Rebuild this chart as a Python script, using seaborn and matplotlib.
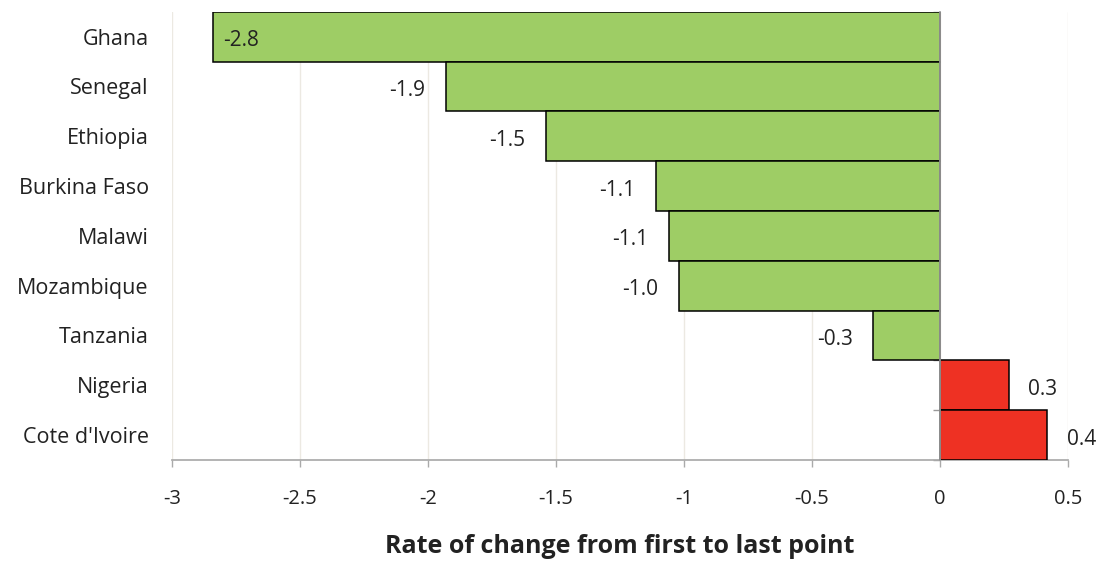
import matplotlib
matplotlib.use("Agg")
import matplotlib.pyplot as plt
import seaborn as sns
import pandas as pd

countries = ["Ghana", "Senegal", "Ethiopia", "Burkina Faso", "Malawi",
             "Mozambique", "Tanzania", "Nigeria", "Cote d'Ivoire"]
rates = [-2.84, -1.93, -1.54, -1.11, -1.06, -1.02, -0.26, 0.27, 0.42]
xticks = [-3, -2.5, -2, -1.5, -1, -0.5, 0, 0.5]
xlabel = "Rate of change from first to last point"

sns.set_theme(style="white")
plt.rcParams["font.family"] = ["Open Sans", "DejaVu Sans"]

df = pd.DataFrame({"country": countries, "rate": rates})
df["direction"] = ["down" if r < 0 else "up" for r in rates]

fig = plt.figure(figsize=(11.17, 5.61), dpi=100)
ax = fig.add_axes([0.154, 0.180, 0.802, 0.799])

sns.barplot(data=df, x="rate", y="country", hue="direction", orient="h",
            palette={"down": "#9ecd65", "up": "#ee3123"}, saturation=1,
            width=1.0, edgecolor="black", linewidth=1.1, legend=False,
            ax=ax, zorder=3)

ax.set_xlim(-3, 0.5)
ax.set_ylim(len(countries) - 0.5, -0.5)
ax.set_xticks(xticks)
ax.set_xticklabels([f"{t:g}" for t in xticks], fontsize=14.5, color="#222222")
ax.xaxis.grid(True, color="#ece9e2", linewidth=1, zorder=0)
ax.yaxis.grid(False)

# Category axis drawn through zero, with ticks at category boundaries
for side in ("top", "right"):
    ax.spines[side].set_visible(False)
ax.spines["left"].set_position(("data", 0))
ax.spines["left"].set_color("#999999")
ax.spines["left"].set_zorder(4)
ax.spines["bottom"].set_color("#aaaaaa")
ax.set_yticks([i - 0.5 for i in range(len(countries) + 1)])
ax.set_yticklabels([])
ax.tick_params(axis="y", left=True, length=5, color="#999999", width=1)
ax.tick_params(axis="x", bottom=True, length=5, color="#aaaaaa", width=1, pad=16)
ax.set_ylabel("")

trans = ax.get_yaxis_transform()
for i, name in enumerate(countries):
    ax.text(-0.026, i + 0.05, name, transform=trans, ha="right", va="center",
            fontsize=15.5, color="#222222")

# Value labels
for i, r in enumerate(rates):
    txt = f"{r:.1f}"
    if r < -2.5:
        ax.text(r + 0.04, i + 0.08, txt, ha="left", va="center", fontsize=15,
                color="#222222", zorder=5)
    elif r < 0:
        ax.text(r - 0.08, i + 0.08, txt, ha="right", va="center", fontsize=15,
                color="#222222", zorder=5)
    else:
        ax.text(r + 0.075, i + 0.08, txt, ha="left", va="center", fontsize=15,
                color="#222222", zorder=5)

ax.set_xlabel(xlabel, fontsize=18, fontweight="bold", color="#222222", labelpad=18)

fig.savefig("out.png", dpi=100)
